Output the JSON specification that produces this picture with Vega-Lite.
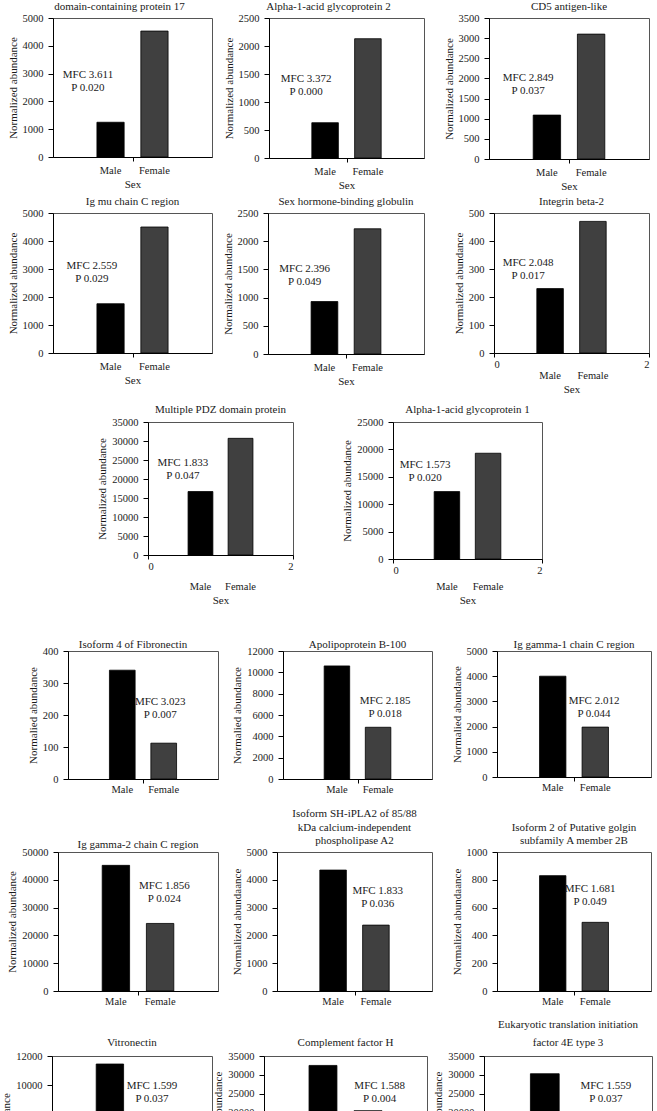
{
"$schema":"https://vega.github.io/schema/vega-lite/v6.json",
"padding":{"left":0,"top":0,"right":0,"bottom":0},
"background":"white",
"config":{
 "font":"Liberation Serif",
 "view":{"stroke":"#555555","strokeWidth":1},
 "axis":{"labelFont":"Liberation Serif","titleFont":"Liberation Serif","labelFontSize":10.5,"titleFontSize":11,"titleFontWeight":"normal","labelColor":"#1a1a1a","titleColor":"#1a1a1a","domainColor":"#000000","tickColor":"#000000","grid":false},
 "axisY":{"format":"d","tickSize":5,"labelPadding":5,"titlePadding":4},
 "title":{"font":"Liberation Serif","fontSize":11,"fontWeight":"normal","color":"#1a1a1a","offset":1,"frame":"group","anchor":"middle","lineHeight":13.5},
 "bar":{"stroke":"#000000","strokeWidth":0.8},
 "text":{"font":"Liberation Serif","fontSize":11,"lineHeight":13,"lineBreak":"\n","baseline":"middle","align":"center","color":"#1a1a1a"}
},
"datasets":{
 "d":[
  {"protein":"domain-containing protein 17","sex":"Male","abundance":1250},{"protein":"domain-containing protein 17","sex":"Female","abundance":4530},
  {"protein":"Alpha-1-acid glycoprotein 2","sex":"Male","abundance":630},{"protein":"Alpha-1-acid glycoprotein 2","sex":"Female","abundance":2130},
  {"protein":"CD5 antigen-like","sex":"Male","abundance":1090},{"protein":"CD5 antigen-like","sex":"Female","abundance":3100},
  {"protein":"Ig mu chain C region","sex":"Male","abundance":1760},{"protein":"Ig mu chain C region","sex":"Female","abundance":4500},
  {"protein":"Sex hormone-binding globulin","sex":"Male","abundance":930},{"protein":"Sex hormone-binding globulin","sex":"Female","abundance":2220},
  {"protein":"Integrin beta-2","sex":"Male","abundance":230},{"protein":"Integrin beta-2","sex":"Female","abundance":470},
  {"protein":"Multiple PDZ domain protein","sex":"Male","abundance":16700},{"protein":"Multiple PDZ domain protein","sex":"Female","abundance":30700},
  {"protein":"Alpha-1-acid glycoprotein 1","sex":"Male","abundance":12300},{"protein":"Alpha-1-acid glycoprotein 1","sex":"Female","abundance":19300},
  {"protein":"Isoform 4 of Fibronectin","sex":"Male","abundance":340},{"protein":"Isoform 4 of Fibronectin","sex":"Female","abundance":112},
  {"protein":"Apolipoprotein B-100","sex":"Male","abundance":10600},{"protein":"Apolipoprotein B-100","sex":"Female","abundance":4850},
  {"protein":"Ig gamma-1 chain C region","sex":"Male","abundance":4000},{"protein":"Ig gamma-1 chain C region","sex":"Female","abundance":1980},
  {"protein":"Ig gamma-2 chain C region","sex":"Male","abundance":45200},{"protein":"Ig gamma-2 chain C region","sex":"Female","abundance":24300},
  {"protein":"Isoform SH-iPLA2","sex":"Male","abundance":4350},{"protein":"Isoform SH-iPLA2","sex":"Female","abundance":2370},
  {"protein":"Isoform 2 of Putative golgin","sex":"Male","abundance":830},{"protein":"Isoform 2 of Putative golgin","sex":"Female","abundance":494},
  {"protein":"Vitronectin","sex":"Male","abundance":11450},{"protein":"Vitronectin","sex":"Female","abundance":7160},
  {"protein":"Complement factor H","sex":"Male","abundance":32500},{"protein":"Complement factor H","sex":"Female","abundance":20500},
  {"protein":"Eukaryotic translation initiation factor 4E type 3","sex":"Male","abundance":30300},{"protein":"Eukaryotic translation initiation factor 4E type 3","sex":"Female","abundance":19500}
 ],
 "lab":[
  {"protein":"domain-containing protein 17","label":"MFC 3.611\nP 0.020"},
  {"protein":"Alpha-1-acid glycoprotein 2","label":"MFC 3.372\nP 0.000"},
  {"protein":"CD5 antigen-like","label":"MFC 2.849\nP 0.037"},
  {"protein":"Ig mu chain C region","label":"MFC 2.559\nP 0.029"},
  {"protein":"Sex hormone-binding globulin","label":"MFC 2.396\nP 0.049"},
  {"protein":"Integrin beta-2","label":"MFC 2.048\nP 0.017"},
  {"protein":"Multiple PDZ domain protein","label":"MFC 1.833\nP 0.047"},
  {"protein":"Alpha-1-acid glycoprotein 1","label":"MFC 1.573\nP 0.020"},
  {"protein":"Isoform 4 of Fibronectin","label":"MFC 3.023\nP 0.007"},
  {"protein":"Apolipoprotein B-100","label":"MFC 2.185\nP 0.018"},
  {"protein":"Ig gamma-1 chain C region","label":"MFC 2.012\nP 0.044"},
  {"protein":"Ig gamma-2 chain C region","label":"MFC 1.856\nP 0.024"},
  {"protein":"Isoform SH-iPLA2","label":"MFC 1.833\nP 0.036"},
  {"protein":"Isoform 2 of Putative golgin","label":"MFC 1.681\nP 0.049"},
  {"protein":"Vitronectin","label":"MFC 1.599\nP 0.037"},
  {"protein":"Complement factor H","label":"MFC 1.588\nP 0.004"},
  {"protein":"Eukaryotic translation initiation factor 4E type 3","label":"MFC 1.559\nP 0.037"}
 ]
},
"vconcat":[
 {"bounds":"flush","spacing":0,"hconcat":[
  {"width":53,"height":10,"data":{"values":[{}]},"mark":{"type":"point","opacity":0},"view":{"stroke":null}},
  {"width":159,"height":139,"title":{"text":"domain-containing protein 17","dx":-13},
   "layer":[
    {"data":{"name":"d"},"transform":[{"filter":"datum.protein === 'domain-containing protein 17'"}],"mark":"bar",
     "encoding":{"x":{"field":"sex","type":"nominal","sort":["Male","Female"],"scale":{"paddingInner":0.38,"paddingOuter":1.25},"axis":{"orient":"bottom","title":"Sex","labelAngle":0,"ticks":false,"tickSize":0,"labelPadding":8,"titlePadding":3}},
      "y":{"field":"abundance","type":"quantitative","scale":{"domain":[0,5000],"nice":false},"axis":{"values":[0,1000,2000,3000,4000,5000]},"title":"Normalized abundance"},
      "color":{"field":"sex","type":"nominal","scale":{"domain":["Male","Female"],"range":["#000000","#404040"]},"legend":null}}},
    {"data":{"name":"lab"},"transform":[{"filter":"datum.protein === 'domain-containing protein 17'"}],"mark":"text",
     "encoding":{"x":{"datum":0.44,"type":"quantitative","scale":{"domain":[0,2]},"axis":{"orient":"bottom","values":[1],"labels":false,"domain":false,"tickSize":4,"title":null}},
      "y":{"datum":2950,"type":"quantitative","scale":{"domain":[0,5000],"nice":false},"axis":{"values":[0,1000,2000,3000,4000,5000]},"title":"Normalized abundance"},
      "text":{"field":"label"}}}
   ],"resolve":{"scale":{"x":"independent"}}},
  {"width":57,"height":10,"data":{"values":[{}]},"mark":{"type":"point","opacity":0},"view":{"stroke":null}},
  {"width":155,"height":140,"title":{"text":"Alpha-1-acid glycoprotein 2","dx":-18},
   "layer":[
    {"data":{"name":"d"},"transform":[{"filter":"datum.protein === 'Alpha-1-acid glycoprotein 2'"}],"mark":"bar",
     "encoding":{"x":{"field":"sex","type":"nominal","sort":["Male","Female"],"scale":{"paddingInner":0.38,"paddingOuter":1.25},"axis":{"orient":"bottom","title":"Sex","labelAngle":0,"ticks":false,"tickSize":0,"labelPadding":8,"titlePadding":3}},
      "y":{"field":"abundance","type":"quantitative","scale":{"domain":[0,2500],"nice":false},"axis":{"values":[0,500,1000,1500,2000,2500]},"title":"Normalized abundance"},
      "color":{"field":"sex","type":"nominal","scale":{"domain":["Male","Female"],"range":["#000000","#404040"]},"legend":null}}},
    {"data":{"name":"lab"},"transform":[{"filter":"datum.protein === 'Alpha-1-acid glycoprotein 2'"}],"mark":"text",
     "encoding":{"x":{"datum":0.48,"type":"quantitative","scale":{"domain":[0,2]},"axis":{"orient":"bottom","values":[1],"labels":false,"domain":false,"tickSize":4,"title":null}},
      "y":{"datum":1403,"type":"quantitative","scale":{"domain":[0,2500],"nice":false},"axis":{"values":[0,500,1000,1500,2000,2500]},"title":"Normalized abundance"},
      "text":{"field":"label"}}}
   ],"resolve":{"scale":{"x":"independent"}}},
  {"width":65,"height":10,"data":{"values":[{}]},"mark":{"type":"point","opacity":0},"view":{"stroke":null}},
  {"width":160,"height":141,"title":{"text":"CD5 antigen-like"},
   "layer":[
    {"data":{"name":"d"},"transform":[{"filter":"datum.protein === 'CD5 antigen-like'"}],"mark":"bar",
     "encoding":{"x":{"field":"sex","type":"nominal","sort":["Male","Female"],"scale":{"paddingInner":0.38,"paddingOuter":1.25},"axis":{"orient":"bottom","title":"Sex","labelAngle":0,"ticks":false,"tickSize":0,"labelPadding":8,"titlePadding":3}},
      "y":{"field":"abundance","type":"quantitative","scale":{"domain":[0,3500],"nice":false},"axis":{"values":[0,500,1000,1500,2000,2500,3000,3500]},"title":"Normalized abundance"},
      "color":{"field":"sex","type":"nominal","scale":{"domain":["Male","Female"],"range":["#000000","#404040"]},"legend":null}}},
    {"data":{"name":"lab"},"transform":[{"filter":"datum.protein === 'CD5 antigen-like'"}],"mark":"text",
     "encoding":{"x":{"datum":0.49,"type":"quantitative","scale":{"domain":[0,2]},"axis":{"orient":"bottom","values":[1],"labels":false,"domain":false,"tickSize":4,"title":null}},
      "y":{"datum":2010,"type":"quantitative","scale":{"domain":[0,3500],"nice":false},"axis":{"values":[0,500,1000,1500,2000,2500,3000,3500]},"title":"Normalized abundance"},
      "text":{"field":"label"}}}
   ],"resolve":{"scale":{"x":"independent"}}}
 ]},
 {"bounds":"flush","spacing":0,"hconcat":[
  {"width":53,"height":10,"data":{"values":[{}]},"mark":{"type":"point","opacity":0},"view":{"stroke":null}},
  {"width":159,"height":140,"title":{"text":"Ig mu chain C region"},
   "layer":[
    {"data":{"name":"d"},"transform":[{"filter":"datum.protein === 'Ig mu chain C region'"}],"mark":"bar",
     "encoding":{"x":{"field":"sex","type":"nominal","sort":["Male","Female"],"scale":{"paddingInner":0.38,"paddingOuter":1.25},"axis":{"orient":"bottom","title":"Sex","labelAngle":0,"ticks":false,"tickSize":0,"labelPadding":8,"titlePadding":3}},
      "y":{"field":"abundance","type":"quantitative","scale":{"domain":[0,5000],"nice":false},"axis":{"values":[0,1000,2000,3000,4000,5000]},"title":"Normalized abundance"},
      "color":{"field":"sex","type":"nominal","scale":{"domain":["Male","Female"],"range":["#000000","#404040"]},"legend":null}}},
    {"data":{"name":"lab"},"transform":[{"filter":"datum.protein === 'Ig mu chain C region'"}],"mark":"text",
     "encoding":{"x":{"datum":0.49,"type":"quantitative","scale":{"domain":[0,2]},"axis":{"orient":"bottom","values":[1],"labels":false,"domain":false,"tickSize":4,"title":null}},
      "y":{"datum":3123,"type":"quantitative","scale":{"domain":[0,5000],"nice":false},"axis":{"values":[0,1000,2000,3000,4000,5000]},"title":"Normalized abundance"},
      "text":{"field":"label"}}}
   ],"resolve":{"scale":{"x":"independent"}}},
  {"width":56,"height":10,"data":{"values":[{}]},"mark":{"type":"point","opacity":0},"view":{"stroke":null}},
  {"width":156,"height":141,"title":{"text":"Sex hormone-binding globulin"},
   "layer":[
    {"data":{"name":"d"},"transform":[{"filter":"datum.protein === 'Sex hormone-binding globulin'"}],"mark":"bar",
     "encoding":{"x":{"field":"sex","type":"nominal","sort":["Male","Female"],"scale":{"paddingInner":0.38,"paddingOuter":1.25},"axis":{"orient":"bottom","title":"Sex","labelAngle":0,"ticks":false,"tickSize":0,"labelPadding":8,"titlePadding":3}},
      "y":{"field":"abundance","type":"quantitative","scale":{"domain":[0,2500],"nice":false},"axis":{"values":[0,500,1000,1500,2000,2500]},"title":"Normalized abundance"},
      "color":{"field":"sex","type":"nominal","scale":{"domain":["Male","Female"],"range":["#000000","#404040"]},"legend":null}}},
    {"data":{"name":"lab"},"transform":[{"filter":"datum.protein === 'Sex hormone-binding globulin'"}],"mark":"text",
     "encoding":{"x":{"datum":0.47,"type":"quantitative","scale":{"domain":[0,2]},"axis":{"orient":"bottom","values":[1],"labels":false,"domain":false,"tickSize":4,"title":null}},
      "y":{"datum":1507,"type":"quantitative","scale":{"domain":[0,2500],"nice":false},"axis":{"values":[0,500,1000,1500,2000,2500]},"title":"Normalized abundance"},
      "text":{"field":"label"}}}
   ],"resolve":{"scale":{"x":"independent"}}},
  {"width":70,"height":10,"data":{"values":[{}]},"mark":{"type":"point","opacity":0},"view":{"stroke":null}},
  {"width":155,"height":140,"title":{"text":"Integrin beta-2"},
   "layer":[
    {"data":{"name":"d"},"transform":[{"filter":"datum.protein === 'Integrin beta-2'"}],"mark":"bar",
     "encoding":{"x":{"field":"sex","type":"nominal","sort":["Male","Female"],"scale":{"paddingInner":0.38,"paddingOuter":1.25},"axis":{"orient":"bottom","title":"Sex","labelAngle":0,"ticks":false,"tickSize":0,"labelPadding":17,"titlePadding":3}},
      "y":{"field":"abundance","type":"quantitative","scale":{"domain":[0,500],"nice":false},"axis":{"values":[0,100,200,300,400,500]},"title":"Normalized abundance"},
      "color":{"field":"sex","type":"nominal","scale":{"domain":["Male","Female"],"range":["#000000","#404040"]},"legend":null}}},
    {"data":{"name":"lab"},"transform":[{"filter":"datum.protein === 'Integrin beta-2'"}],"mark":"text",
     "encoding":{"x":{"datum":0.44,"type":"quantitative","scale":{"domain":[0,2]},"axis":{"orient":"bottom","values":[0,1,2],"format":"d","domain":false,"tickSize":4,"labelPadding":2,"title":null}},
      "y":{"datum":322,"type":"quantitative","scale":{"domain":[0,500],"nice":false},"axis":{"values":[0,100,200,300,400,500]},"title":"Normalized abundance"},
      "text":{"field":"label"}}}
   ],"resolve":{"scale":{"x":"independent"}}}
 ]},
 {"bounds":"flush","spacing":0,"hconcat":[
  {"width":148,"height":10,"data":{"values":[{}]},"mark":{"type":"point","opacity":0},"view":{"stroke":null}},
  {"width":145,"height":133,"title":{"text":[" ","Multiple PDZ domain protein"],"offset":2,"lineHeight":5},
   "layer":[
    {"data":{"name":"d"},"transform":[{"filter":"datum.protein === 'Multiple PDZ domain protein'"}],"mark":"bar",
     "encoding":{"x":{"field":"sex","type":"nominal","sort":["Male","Female"],"scale":{"paddingInner":0.38,"paddingOuter":1.25},"axis":{"orient":"bottom","title":"Sex","labelAngle":0,"ticks":false,"tickSize":0,"labelPadding":26,"titlePadding":3}},
      "y":{"field":"abundance","type":"quantitative","scale":{"domain":[0,35000],"nice":false},"axis":{"values":[0,5000,10000,15000,20000,25000,30000,35000]},"title":"Normalized abundance"},
      "color":{"field":"sex","type":"nominal","scale":{"domain":["Male","Female"],"range":["#000000","#404040"]},"legend":null}}},
    {"data":{"name":"lab"},"transform":[{"filter":"datum.protein === 'Multiple PDZ domain protein'"}],"mark":"text",
     "encoding":{"x":{"datum":0.48,"type":"quantitative","scale":{"domain":[0,2]},"axis":{"orient":"bottom","values":[0,1,2],"format":"d","domain":false,"tickSize":4,"labelPadding":2,"title":null}},
      "y":{"datum":24186,"type":"quantitative","scale":{"domain":[0,35000],"nice":false},"axis":{"values":[0,5000,10000,15000,20000,25000,30000,35000]},"title":"Normalized abundance"},
      "text":{"field":"label"}}}
   ],"resolve":{"scale":{"x":"independent"}}},
  {"width":100,"height":10,"data":{"values":[{}]},"mark":{"type":"point","opacity":0},"view":{"stroke":null}},
  {"width":149,"height":137,"title":{"text":[" ","Alpha-1-acid glycoprotein 1"],"offset":2,"lineHeight":5},
   "layer":[
    {"data":{"name":"d"},"transform":[{"filter":"datum.protein === 'Alpha-1-acid glycoprotein 1'"}],"mark":"bar",
     "encoding":{"x":{"field":"sex","type":"nominal","sort":["Male","Female"],"scale":{"paddingInner":0.38,"paddingOuter":1.25},"axis":{"orient":"bottom","title":"Sex","labelAngle":0,"ticks":false,"tickSize":0,"labelPadding":22,"titlePadding":3}},
      "y":{"field":"abundance","type":"quantitative","scale":{"domain":[0,25000],"nice":false},"axis":{"values":[0,5000,10000,15000,20000,25000]},"title":"Normalized abundance"},
      "color":{"field":"sex","type":"nominal","scale":{"domain":["Male","Female"],"range":["#000000","#404040"]},"legend":null}}},
    {"data":{"name":"lab"},"transform":[{"filter":"datum.protein === 'Alpha-1-acid glycoprotein 1'"}],"mark":"text",
     "encoding":{"x":{"datum":0.43,"type":"quantitative","scale":{"domain":[0,2]},"axis":{"orient":"bottom","values":[0,1,2],"format":"d","domain":false,"tickSize":4,"labelPadding":2,"title":null}},
      "y":{"datum":17190,"type":"quantitative","scale":{"domain":[0,25000],"nice":false},"axis":{"values":[0,5000,10000,15000,20000,25000]},"title":"Normalized abundance"},
      "text":{"field":"label"}}}
   ],"resolve":{"scale":{"x":"independent"}}}
 ]},
 {"bounds":"flush","spacing":0,"hconcat":[
  {"width":68,"height":10,"data":{"values":[{}]},"mark":{"type":"point","opacity":0},"view":{"stroke":null}},
  {"width":150,"height":128,"title":{"text":[" ","Isoform 4 of Fibronectin"],"dx":-10,"lineHeight":29,"offset":-4},
   "layer":[
    {"data":{"name":"d"},"transform":[{"filter":"datum.protein === 'Isoform 4 of Fibronectin'"}],"mark":"bar",
     "encoding":{"x":{"field":"sex","type":"nominal","sort":["Male","Female"],"scale":{"paddingInner":0.38,"paddingOuter":1.25},"axis":{"orient":"bottom","title":" ","titleFontSize":9,"titlePadding":0,"labelAngle":0,"ticks":false,"tickSize":0,"labelPadding":5}},
      "y":{"field":"abundance","type":"quantitative","scale":{"domain":[0,400],"nice":false},"axis":{"values":[0,100,200,300,400]},"title":"Normalied abundance"},
      "color":{"field":"sex","type":"nominal","scale":{"domain":["Male","Female"],"range":["#000000","#404040"]},"legend":null}}},
    {"data":{"name":"lab"},"transform":[{"filter":"datum.protein === 'Isoform 4 of Fibronectin'"}],"mark":"text",
     "encoding":{"x":{"datum":1.23,"type":"quantitative","scale":{"domain":[0,2]},"axis":{"orient":"bottom","values":[1],"labels":false,"domain":false,"tickSize":4,"title":null}},
      "y":{"datum":241,"type":"quantitative","scale":{"domain":[0,400],"nice":false},"axis":{"values":[0,100,200,300,400]},"title":"Normalied abundance"},
      "text":{"field":"label"}}}
   ],"resolve":{"scale":{"x":"independent"}}},
  {"width":65,"height":10,"data":{"values":[{}]},"mark":{"type":"point","opacity":0},"view":{"stroke":null}},
  {"width":149,"height":128,"title":{"text":[" ","Apolipoprotein B-100"],"lineHeight":29,"offset":-4},
   "layer":[
    {"data":{"name":"d"},"transform":[{"filter":"datum.protein === 'Apolipoprotein B-100'"}],"mark":"bar",
     "encoding":{"x":{"field":"sex","type":"nominal","sort":["Male","Female"],"scale":{"paddingInner":0.38,"paddingOuter":1.25},"axis":{"orient":"bottom","title":" ","titleFontSize":9,"titlePadding":0,"labelAngle":0,"ticks":false,"tickSize":0,"labelPadding":5}},
      "y":{"field":"abundance","type":"quantitative","scale":{"domain":[0,12000],"nice":false},"axis":{"values":[0,2000,4000,6000,8000,10000,12000]},"title":"Normalied abundance"},
      "color":{"field":"sex","type":"nominal","scale":{"domain":["Male","Female"],"range":["#000000","#404040"]},"legend":null}}},
    {"data":{"name":"lab"},"transform":[{"filter":"datum.protein === 'Apolipoprotein B-100'"}],"mark":"text",
     "encoding":{"x":{"datum":1.37,"type":"quantitative","scale":{"domain":[0,2]},"axis":{"orient":"bottom","values":[1],"labels":false,"domain":false,"tickSize":4,"title":null}},
      "y":{"datum":7312,"type":"quantitative","scale":{"domain":[0,12000],"nice":false},"axis":{"values":[0,2000,4000,6000,8000,10000,12000]},"title":"Normalied abundance"},
      "text":{"field":"label"}}}
   ],"resolve":{"scale":{"x":"independent"}}},
  {"width":65,"height":10,"data":{"values":[{}]},"mark":{"type":"point","opacity":0},"view":{"stroke":null}},
  {"width":154,"height":126,"title":{"text":[" ","Ig gamma-1 chain C region"],"lineHeight":29,"offset":-4},
   "layer":[
    {"data":{"name":"d"},"transform":[{"filter":"datum.protein === 'Ig gamma-1 chain C region'"}],"mark":"bar",
     "encoding":{"x":{"field":"sex","type":"nominal","sort":["Male","Female"],"scale":{"paddingInner":0.38,"paddingOuter":1.25},"axis":{"orient":"bottom","title":" ","titleFontSize":9,"titlePadding":0,"labelAngle":0,"ticks":false,"tickSize":0,"labelPadding":5}},
      "y":{"field":"abundance","type":"quantitative","scale":{"domain":[0,5000],"nice":false},"axis":{"values":[0,1000,2000,3000,4000,5000]},"title":"Normalied abundance"},
      "color":{"field":"sex","type":"nominal","scale":{"domain":["Male","Female"],"range":["#000000","#404040"]},"legend":null}}},
    {"data":{"name":"lab"},"transform":[{"filter":"datum.protein === 'Ig gamma-1 chain C region'"}],"mark":"text",
     "encoding":{"x":{"datum":1.26,"type":"quantitative","scale":{"domain":[0,2]},"axis":{"orient":"bottom","values":[1],"labels":false,"domain":false,"tickSize":4,"title":null}},
      "y":{"datum":3010,"type":"quantitative","scale":{"domain":[0,5000],"nice":false},"axis":{"values":[0,1000,2000,3000,4000,5000]},"title":"Normalied abundance"},
      "text":{"field":"label"}}}
   ],"resolve":{"scale":{"x":"independent"}}}
 ]},
 {"bounds":"flush","spacing":0,"hconcat":[
  {"width":58,"height":10,"data":{"values":[{}]},"mark":{"type":"point","opacity":0},"view":{"stroke":null}},
  {"width":160,"height":139,"title":{"text":"Ig gamma-2 chain C region","offset":-3},
   "layer":[
    {"data":{"name":"d"},"transform":[{"filter":"datum.protein === 'Ig gamma-2 chain C region'"}],"mark":"bar",
     "encoding":{"x":{"field":"sex","type":"nominal","sort":["Male","Female"],"scale":{"paddingInner":0.38,"paddingOuter":1.25},"axis":{"orient":"bottom","title":" ","titleFontSize":6,"titlePadding":2,"labelAngle":0,"ticks":false,"tickSize":0,"labelPadding":5}},
      "y":{"field":"abundance","type":"quantitative","scale":{"domain":[0,50000],"nice":false},"axis":{"values":[0,10000,20000,30000,40000,50000]},"title":"Normalized abundance"},
      "color":{"field":"sex","type":"nominal","scale":{"domain":["Male","Female"],"range":["#000000","#404040"]},"legend":null}}},
    {"data":{"name":"lab"},"transform":[{"filter":"datum.protein === 'Ig gamma-2 chain C region'"}],"mark":"text",
     "encoding":{"x":{"datum":1.33,"type":"quantitative","scale":{"domain":[0,2]},"axis":{"orient":"bottom","values":[1],"labels":false,"domain":false,"tickSize":4,"title":null}},
      "y":{"datum":37770,"type":"quantitative","scale":{"domain":[0,50000],"nice":false},"axis":{"values":[0,10000,20000,30000,40000,50000]},"title":"Normalized abundance"},
      "text":{"field":"label"}}}
   ],"resolve":{"scale":{"x":"independent"}}},
  {"width":59,"height":10,"data":{"values":[{}]},"mark":{"type":"point","opacity":0},"view":{"stroke":null}},
  {"width":155,"height":139,"title":{"text":["Isoform SH-iPLA2 of 85/88","kDa calcium-independent","phospholipase A2"]},
   "layer":[
    {"data":{"name":"d"},"transform":[{"filter":"datum.protein === 'Isoform SH-iPLA2'"}],"mark":"bar",
     "encoding":{"x":{"field":"sex","type":"nominal","sort":["Male","Female"],"scale":{"paddingInner":0.38,"paddingOuter":1.25},"axis":{"orient":"bottom","title":" ","titleFontSize":6,"titlePadding":2,"labelAngle":0,"ticks":false,"tickSize":0,"labelPadding":5}},
      "y":{"field":"abundance","type":"quantitative","scale":{"domain":[0,5000],"nice":false},"axis":{"values":[0,1000,2000,3000,4000,5000]},"title":"Normalized abundaance"},
      "color":{"field":"sex","type":"nominal","scale":{"domain":["Male","Female"],"range":["#000000","#404040"]},"legend":null}}},
    {"data":{"name":"lab"},"transform":[{"filter":"datum.protein === 'Isoform SH-iPLA2'"}],"mark":"text",
     "encoding":{"x":{"datum":1.30,"type":"quantitative","scale":{"domain":[0,2]},"axis":{"orient":"bottom","values":[1],"labels":false,"domain":false,"tickSize":4,"title":null}},
      "y":{"datum":3589,"type":"quantitative","scale":{"domain":[0,5000],"nice":false},"axis":{"values":[0,1000,2000,3000,4000,5000]},"title":"Normalized abundaance"},
      "text":{"field":"label"}}}
   ],"resolve":{"scale":{"x":"independent"}}},
  {"width":65,"height":10,"data":{"values":[{}]},"mark":{"type":"point","opacity":0},"view":{"stroke":null}},
  {"width":154,"height":139,"title":{"text":["Isoform 2 of Putative golgin","subfamily A member 2B"]},
   "layer":[
    {"data":{"name":"d"},"transform":[{"filter":"datum.protein === 'Isoform 2 of Putative golgin'"}],"mark":"bar",
     "encoding":{"x":{"field":"sex","type":"nominal","sort":["Male","Female"],"scale":{"paddingInner":0.38,"paddingOuter":1.25},"axis":{"orient":"bottom","title":" ","titleFontSize":6,"titlePadding":2,"labelAngle":0,"ticks":false,"tickSize":0,"labelPadding":5}},
      "y":{"field":"abundance","type":"quantitative","scale":{"domain":[0,1000],"nice":false},"axis":{"values":[0,200,400,600,800,1000]},"title":"Normalized abundaance"},
      "color":{"field":"sex","type":"nominal","scale":{"domain":["Male","Female"],"range":["#000000","#404040"]},"legend":null}}},
    {"data":{"name":"lab"},"transform":[{"filter":"datum.protein === 'Isoform 2 of Putative golgin'"}],"mark":"text",
     "encoding":{"x":{"datum":1.21,"type":"quantitative","scale":{"domain":[0,2]},"axis":{"orient":"bottom","values":[1],"labels":false,"domain":false,"tickSize":4,"title":null}},
      "y":{"datum":734,"type":"quantitative","scale":{"domain":[0,1000],"nice":false},"axis":{"values":[0,200,400,600,800,1000]},"title":"Normalized abundaance"},
      "text":{"field":"label"}}}
   ],"resolve":{"scale":{"x":"independent"}}}
 ]},
 {"bounds":"flush","spacing":0,"hconcat":[
  {"width":52,"height":10,"data":{"values":[{}]},"mark":{"type":"point","opacity":0},"view":{"stroke":null}},
  {"width":160,"height":175,"title":{"text":"Vitronectin","offset":3,"lineHeight":18},
   "layer":[
    {"data":{"name":"d"},"transform":[{"filter":"datum.protein === 'Vitronectin'"}],"mark":"bar",
     "encoding":{"x":{"field":"sex","type":"nominal","sort":["Male","Female"],"scale":{"paddingInner":0.38,"paddingOuter":1.25},"axis":{"orient":"bottom","title":null,"labelAngle":0,"ticks":false,"tickSize":0,"labelPadding":5}},
      "y":{"field":"abundance","type":"quantitative","scale":{"domain":[0,12000],"nice":false},"axis":{"values":[0,2000,4000,6000,8000,10000,12000]},"title":"Normalized abundance"},
      "color":{"field":"sex","type":"nominal","scale":{"domain":["Male","Female"],"range":["#000000","#404040"]},"legend":null}}},
    {"data":{"name":"lab"},"transform":[{"filter":"datum.protein === 'Vitronectin'"}],"mark":"text",
     "encoding":{"x":{"datum":1.25,"type":"quantitative","scale":{"domain":[0,2]},"axis":{"orient":"bottom","values":[1],"labels":false,"domain":false,"tickSize":4,"title":null}},
      "y":{"datum":9950,"type":"quantitative","scale":{"domain":[0,12000],"nice":false},"axis":{"values":[0,2000,4000,6000,8000,10000,12000]},"title":"Normalized abundance"},
      "text":{"field":"label"}}}
   ],"resolve":{"scale":{"x":"independent"}}},
  {"width":52,"height":10,"data":{"values":[{}]},"mark":{"type":"point","opacity":0},"view":{"stroke":null}},
  {"width":163,"height":132,"title":{"text":"Complement factor H","offset":3,"lineHeight":18},
   "layer":[
    {"data":{"name":"d"},"transform":[{"filter":"datum.protein === 'Complement factor H'"}],"mark":"bar",
     "encoding":{"x":{"field":"sex","type":"nominal","sort":["Male","Female"],"scale":{"paddingInner":0.38,"paddingOuter":1.25},"axis":{"orient":"bottom","title":null,"labelAngle":0,"ticks":false,"tickSize":0,"labelPadding":5}},
      "y":{"field":"abundance","type":"quantitative","scale":{"domain":[0,35000],"nice":false},"axis":{"values":[0,5000,10000,15000,20000,25000,30000,35000]},"title":"Normalized abundance"},
      "color":{"field":"sex","type":"nominal","scale":{"domain":["Male","Female"],"range":["#000000","#404040"]},"legend":null}}},
    {"data":{"name":"lab"},"transform":[{"filter":"datum.protein === 'Complement factor H'"}],"mark":"text",
     "encoding":{"x":{"datum":1.42,"type":"quantitative","scale":{"domain":[0,2]},"axis":{"orient":"bottom","values":[1],"labels":false,"domain":false,"tickSize":4,"title":null}},
      "y":{"datum":27050,"type":"quantitative","scale":{"domain":[0,35000],"nice":false},"axis":{"values":[0,5000,10000,15000,20000,25000,30000,35000]},"title":"Normalized abundance"},
      "text":{"field":"label"}}}
   ],"resolve":{"scale":{"x":"independent"}}},
  {"width":57,"height":10,"data":{"values":[{}]},"mark":{"type":"point","opacity":0},"view":{"stroke":null}},
  {"width":168,"height":132,"title":{"text":["Eukaryotic translation initiation","factor 4E type 3"],"offset":3,"lineHeight":18},
   "layer":[
    {"data":{"name":"d"},"transform":[{"filter":"datum.protein === 'Eukaryotic translation initiation factor 4E type 3'"}],"mark":"bar",
     "encoding":{"x":{"field":"sex","type":"nominal","sort":["Male","Female"],"scale":{"paddingInner":0.38,"paddingOuter":1.25},"axis":{"orient":"bottom","title":null,"labelAngle":0,"ticks":false,"tickSize":0,"labelPadding":5}},
      "y":{"field":"abundance","type":"quantitative","scale":{"domain":[0,35000],"nice":false},"axis":{"values":[0,5000,10000,15000,20000,25000,30000,35000]},"title":"Normalized abundance"},
      "color":{"field":"sex","type":"nominal","scale":{"domain":["Male","Female"],"range":["#000000","#404040"]},"legend":null}}},
    {"data":{"name":"lab"},"transform":[{"filter":"datum.protein === 'Eukaryotic translation initiation factor 4E type 3'"}],"mark":"text",
     "encoding":{"x":{"datum":1.45,"type":"quantitative","scale":{"domain":[0,2]},"axis":{"orient":"bottom","values":[1],"labels":false,"domain":false,"tickSize":4,"title":null}},
      "y":{"datum":27050,"type":"quantitative","scale":{"domain":[0,35000],"nice":false},"axis":{"values":[0,5000,10000,15000,20000,25000,30000,35000]},"title":"Normalized abundance"},
      "text":{"field":"label"}}}
   ],"resolve":{"scale":{"x":"independent"}}}
 ]}
],
"spacing":3
}
